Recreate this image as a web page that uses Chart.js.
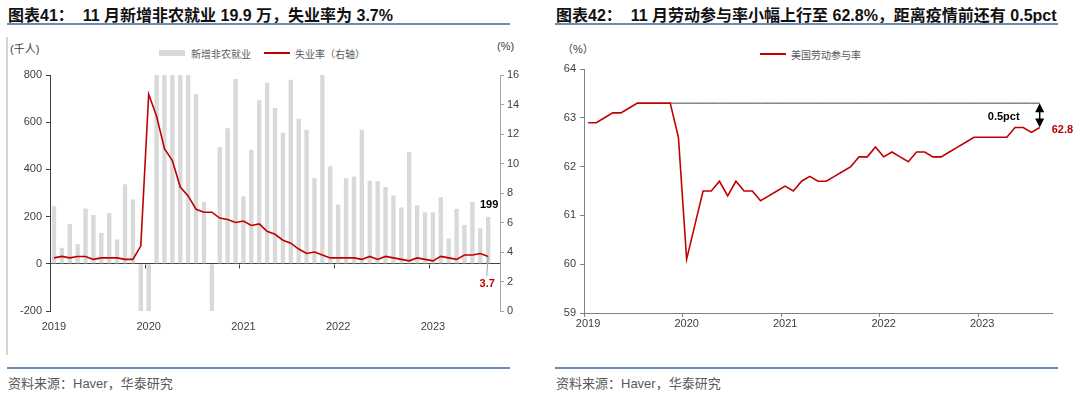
<!DOCTYPE html>
<html lang="zh">
<head>
<meta charset="UTF-8">
<title>非农就业、失业率与劳动参与率</title>
<style>
  body { margin: 0; width: 1080px; height: 393px; position: relative; overflow: hidden; background: #fff;
         font-family: Arial, "Liberation Sans", "Noto Sans CJK SC", sans-serif; }
  .title { position: absolute; top: 2px; font-weight: bold; font-size: 16px; color: #111; white-space: pre; }
  .rule { position: absolute; height: 2px; background: #6d8bb1; }
  .frame { position: absolute; left: 6px; top: 37px; width: 2px; height: 318px; background: #d6d6d6; }
  .unit { position: absolute; font-size: 11px; color: #404040; }
  .legend { position: absolute; font-size: 10px; color: #595959; font-family: "Noto Sans CJK SC", sans-serif;
            display: flex; align-items: center; height: 12px; }
  .sw-bar { width: 26px; height: 6px; background: #d9d9d9; margin-right: 6px; }
  .sw-line { width: 26px; height: 2px; background: #c00000; margin-right: 5px; }
  .source { position: absolute; top: 373px; font-size: 13px; color: #595959; }
  canvas { position: absolute; }
</style>
</head>
<body>
  <div class="title" style="left:8px;">图表41：  11 月新增非农就业 19.9 万，失业率为 3.7%</div>
  <div class="rule" style="left:7px; width:503px; top:23px;"></div>
  <div class="title" style="left:556px;">图表42：  11 月劳动参与率小幅上行至 62.8%，距离疫情前还有 0.5pct</div>
  <div class="rule" style="left:555px; width:503px; top:23px;"></div>
  <div class="frame"></div>

  <div class="unit" style="left:10px; top:40px;">(千人)</div>
  <div class="unit" style="left:497px; top:40px;">(%)</div>
  <div class="unit" style="left:562px; top:40px;">（%）</div>

  <div class="legend" style="left:159px; top:47px;"><span class="sw-bar"></span>新增非农就业</div>
  <div class="legend" style="left:264px; top:47px;"><span class="sw-line"></span>失业率（右轴）</div>
  <div class="legend" style="left:760px; top:48px;"><span class="sw-line"></span>美国劳动参与率</div>

  <canvas id="jobsChart" width="540" height="280" style="left:0; top:60px;"></canvas>
  <canvas id="lfprChart" width="540" height="290" style="left:540px; top:55px;"></canvas>

  <div class="rule" style="left:7px; width:503px; top:367px;"></div>
  <div class="rule" style="left:555px; width:503px; top:367px;"></div>
  <div class="source" style="left:8px;">资料来源：Haver，华泰研究</div>
  <div class="source" style="left:556px;">资料来源：Haver，华泰研究</div>

  <script src="https://cdn.jsdelivr.net/npm/chart.js"></script>
  <script>
    // monthly, Apr 2019 .. Dec 2023 (last month has no data yet)
    const months = [];
    for (let y = 2019; y <= 2023; y++) {
      for (let m = 1; m <= 12; m++) {
        if (y === 2019 && m < 4) continue;
        months.push(y + '-' + String(m).padStart(2, '0'));
      }
    }
    const yearLabels = ['2019', '2020', '2021', '2022', '2023'];
    const yearTickIdx = [0, 12, 24, 36, 48];

    // 新增非农就业 (千人), Apr 2019 .. Nov 2023
    const payrolls = [
      244, 68, 168, 83, 234, 207, 131, 215, 103, 337, 273, -1373,
      -20787, 2725, 4781, 1726, 1583, 880, 718, 262, -268, 494, 574, 783,
      286, 483, 693, 767, 660, 555, 780, 615, 568, 363, 804, 413,
      251, 363, 370, 568, 352, 350, 325, 290, 239, 473, 248, 218,
      218, 282, 107, 233, 165, 262, 150, 199
    ];
    // 失业率 (%), Apr 2019 .. Nov 2023
    const unemployment = [
      3.6, 3.7, 3.6, 3.7, 3.7, 3.5, 3.6, 3.6, 3.6, 3.5, 3.5, 4.4,
      14.7, 13.2, 11.0, 10.2, 8.4, 7.8, 6.9, 6.7, 6.7, 6.3, 6.2, 6.0,
      6.1, 5.8, 5.9, 5.4, 5.2, 4.8, 4.6, 4.2, 3.9, 4.0, 3.8, 3.6,
      3.6, 3.6, 3.6, 3.5, 3.7, 3.5, 3.7, 3.6, 3.5, 3.4, 3.6, 3.5,
      3.4, 3.7, 3.6, 3.5, 3.8, 3.8, 3.9, 3.7
    ];
    // 美国劳动参与率 (%), Apr 2019 .. Nov 2023
    const lfpr = [
      62.9, 62.9, 63.0, 63.1, 63.1, 63.2, 63.3, 63.3, 63.3, 63.3, 63.3, 62.6,
      60.1, 60.8, 61.5, 61.5, 61.7, 61.4, 61.7, 61.5, 61.5, 61.3, 61.4, 61.5,
      61.6, 61.5, 61.7, 61.8, 61.7, 61.7, 61.8, 61.9, 62.0, 62.2, 62.2, 62.4,
      62.2, 62.3, 62.2, 62.1, 62.3, 62.3, 62.2, 62.2, 62.3, 62.4, 62.5, 62.6,
      62.6, 62.6, 62.6, 62.6, 62.8, 62.8, 62.7, 62.8
    ];
    const preCovidLevel = 63.3;   // 疫情前水平
    const preCovidIdx = 10;       // Feb 2020

    const RED = '#c00000';
    const AXIS = '#404040';
    const TICK_FONT = { family: 'Arial', size: 11 };

    const yearTick = (val, i) => {
      const k = yearTickIdx.indexOf(i);
      return k >= 0 ? yearLabels[k] : '';
    };
    const lastIdx = payrolls.length - 1;

    const jobsNotes = {
      id: 'jobsNotes',
      afterDatasetsDraw(chart) {
        const { ctx, scales: { x, y, y1 } } = chart;
        const half = (x.getPixelForValue(1) - x.getPixelForValue(0)) / 2;
        const y0 = Math.round(y.getPixelForValue(0)) + 0.5;
        ctx.save();
        ctx.strokeStyle = AXIS;
        ctx.lineWidth = 1;
        yearTickIdx.slice(1).forEach(i => {
          const px = Math.round(x.getPixelForValue(i) - half) + 0.5;
          ctx.beginPath(); ctx.moveTo(px, y0); ctx.lineTo(px, y0 + 4); ctx.stroke();
        });
        const px = x.getPixelForValue(lastIdx);
        ctx.font = 'bold 11px Arial';
        ctx.textAlign = 'center';
        ctx.textBaseline = 'middle';
        ctx.fillStyle = '#000';
        ctx.fillText(String(payrolls[lastIdx]), px + 1, y.getPixelForValue(payrolls[lastIdx]) - 12);
        const py = y1.getPixelForValue(unemployment[lastIdx]);
        ctx.strokeStyle = '#a0a0a0';
        ctx.beginPath(); ctx.moveTo(px, py); ctx.lineTo(px - 1.5, py + 20); ctx.stroke();
        ctx.fillStyle = RED;
        ctx.fillText(unemployment[lastIdx].toFixed(1), px - 1, py + 28);
        ctx.restore();
      }
    };

    new Chart(document.getElementById('jobsChart'), {
      type: 'bar',
      data: {
        labels: months,
        datasets: [
          { type: 'line', label: '失业率（右轴）', data: unemployment, yAxisID: 'y1',
            borderColor: RED, borderWidth: 1.6, pointRadius: 0, tension: 0, order: 0 },
          { label: '新增非农就业', data: payrolls, yAxisID: 'y', backgroundColor: '#d9d9d9',
            barPercentage: 0.55, categoryPercentage: 1, order: 1 }
        ]
      },
      options: {
        responsive: false,
        animation: false,
        layout: { padding: { top: 15, left: 0, right: 0, bottom: 0 } },
        plugins: { legend: { display: false }, tooltip: { enabled: false } },
        scales: {
          x: {
            offset: true,
            border: { display: false },
            grid: { display: false },
            ticks: { callback: yearTick, autoSkip: false, maxRotation: 0, padding: 1, color: AXIS, font: TICK_FONT },
            afterFit(s) { s.height = 29; }
          },
          y: {
            position: 'left', min: -200, max: 800,
            border: { color: AXIS },
            grid: { color: c => (c.tick && c.tick.value === 0 ? AXIS : 'transparent'), tickColor: AXIS, tickLength: 4 },
            ticks: { stepSize: 200, padding: 4, color: AXIS, font: TICK_FONT },
            afterFit(s) { s.width = 50; }
          },
          y1: {
            position: 'right', min: 0, max: 16,
            border: { color: '#a6a6a6' },
            grid: { drawOnChartArea: false, tickColor: '#a6a6a6', tickLength: 4 },
            ticks: { stepSize: 2, padding: 3, color: AXIS, font: TICK_FONT },
            afterFit(s) { s.width = 40; }
          }
        }
      },
      plugins: [jobsNotes]
    });

    const preCovidLine = months.map((m, i) => (i >= preCovidIdx && i <= lastIdx ? preCovidLevel : null));

    const lfprNotes = {
      id: 'lfprNotes',
      afterDatasetsDraw(chart) {
        const { ctx, scales: { x, y } } = chart;
        const px = x.getPixelForValue(lastIdx);
        const top = y.getPixelForValue(preCovidLevel);
        const bot = y.getPixelForValue(lfpr[lastIdx]);
        ctx.save();
        ctx.fillStyle = '#000';
        ctx.strokeStyle = '#000';
        ctx.lineWidth = 1.5;
        ctx.beginPath(); ctx.moveTo(px, top + 6); ctx.lineTo(px, bot - 6); ctx.stroke();
        ctx.beginPath(); ctx.moveTo(px, top); ctx.lineTo(px - 4.5, top + 9); ctx.lineTo(px + 4.5, top + 9); ctx.closePath(); ctx.fill();
        ctx.beginPath(); ctx.moveTo(px, bot); ctx.lineTo(px - 4.5, bot - 9); ctx.lineTo(px + 4.5, bot - 9); ctx.closePath(); ctx.fill();
        ctx.font = 'bold 11px Arial';
        ctx.textBaseline = 'middle';
        ctx.textAlign = 'center';
        ctx.fillText((preCovidLevel - lfpr[lastIdx]).toFixed(1) + 'pct', px - 36, top + 14);
        ctx.textAlign = 'left';
        ctx.fillStyle = RED;
        ctx.fillText(lfpr[lastIdx].toFixed(1), px + 12, bot + 2);
        ctx.restore();
      }
    };

    new Chart(document.getElementById('lfprChart'), {
      type: 'line',
      data: {
        labels: months,
        datasets: [
          { label: '美国劳动参与率', data: lfpr, borderColor: RED, borderWidth: 1.6, pointRadius: 0, tension: 0, order: 0 },
          { label: '疫情前', data: preCovidLine, borderColor: '#4a4a4a', borderWidth: 1, pointRadius: 0, order: 1 }
        ]
      },
      options: {
        responsive: false,
        animation: false,
        layout: { padding: { top: 14, left: 0, right: 28, bottom: 0 } },
        plugins: { legend: { display: false }, tooltip: { enabled: false } },
        scales: {
          x: {
            offset: true,
            border: { color: '#808080' },
            grid: { offset: true, drawOnChartArea: false, tickLength: 4,
                    tickColor: c => (yearTickIdx.includes(c.index) ? '#808080' : 'transparent') },
            ticks: { callback: yearTick, autoSkip: false, maxRotation: 0, padding: 0, color: AXIS, font: TICK_FONT },
            afterFit(s) { s.height = 32; }
          },
          y: {
            min: 59, max: 64,
            border: { color: '#808080' },
            grid: { drawOnChartArea: false, tickColor: '#808080', tickLength: 4 },
            ticks: { stepSize: 1, padding: 4, color: AXIS, font: TICK_FONT },
            afterFit(s) { s.width = 44; }
          }
        }
      },
      plugins: [lfprNotes]
    });
  </script>
</body>
</html>
